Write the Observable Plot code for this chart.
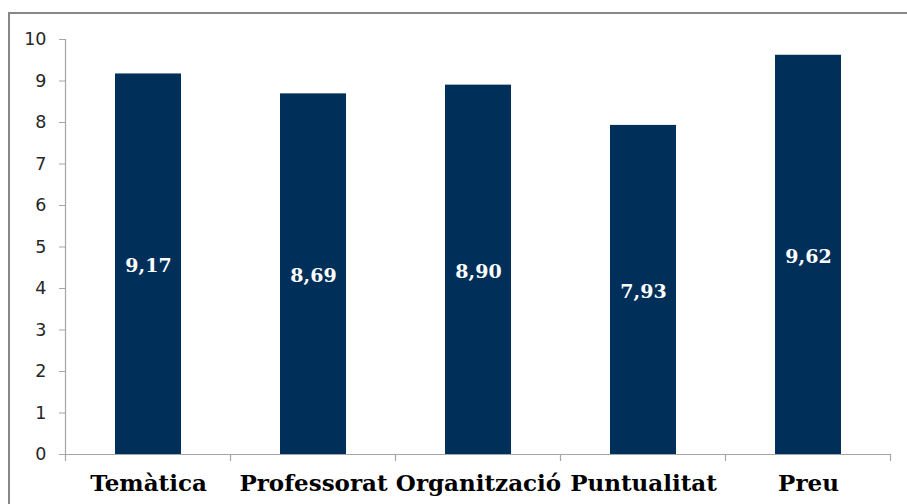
<!DOCTYPE html>
<html>
<head>
<meta charset="utf-8">
<script src="https://cdn.jsdelivr.net/npm/d3@7"></script>
<script src="https://cdn.jsdelivr.net/npm/@observablehq/plot@0.6"></script>
<style>
  html, body { margin: 0; padding: 0; background: #fff; overflow: hidden; }
  #wrap { position: relative; width: 907px; height: 504px; }
  #border { position: absolute; left: 8px; top: 12px; width: 960px; height: 560px;
            border-top: 2.5px solid #878787; border-left: 2.5px solid #878787; box-sizing: border-box; pointer-events: none; }
  #chart { position: absolute; left: 0; top: 0; }
</style>
</head>
<body>
<div id="wrap"><div id="chart"></div><div id="border"></div></div>
<script>
const categories = ["Temàtica", "Professorat", "Organització", "Puntualitat", "Preu"];
const values = [9.17, 8.69, 8.90, 7.93, 9.62];
const valueLabels = ["9,17", "8,69", "8,90", "7,93", "9,62"];
const yTicks = [0, 1, 2, 3, 4, 5, 6, 7, 8, 9, 10];

const data = categories.map((c, i) => ({cat: c, v: values[i], label: valueLabels[i]}));

const barColor = "#002f5a";
const axisColor = "#a6a6a6";

const plot = Plot.plot({
  width: 907,
  height: 504,
  marginLeft: 66,
  marginRight: 16,
  marginTop: 39,
  marginBottom: 50,
  style: {background: "transparent", overflow: "visible"},
  x: {domain: categories, paddingInner: 0.6, paddingOuter: 0.3, label: null},
  y: {domain: [0, 10], label: null},
  marks: [
    Plot.barY(data, {x: "cat", y: "v", fill: barColor}),
    Plot.text(data, {x: "cat", y: d => d.v / 2, text: "label", fill: "#fff",
      fontFamily: "DejaVu Serif", fontWeight: "bold", fontSize: 19, dy: 2}),
    Plot.axisY({ticks: yTicks, tickSize: 7, tickPadding: 13, stroke: axisColor,
      fontFamily: "DejaVu Sans", fontSize: 17.5, fill: "#262626", label: null, tickFormat: d => String(d)}),
    Plot.axisX({tickSize: 0, tickPadding: 20, fontFamily: "DejaVu Serif", fontWeight: "bold",
      fontSize: 23, fill: "#000", label: null}),
    Plot.ruleY([0], {stroke: axisColor, strokeWidth: 1.2})
  ]
});
document.getElementById("chart").appendChild(plot);

// axis lines and category boundary ticks, positioned through Plot's own scales
const xs = plot.scale("x"), ys = plot.scale("y");
const svg = d3.select(plot);
const y0 = ys.apply(0), y10 = ys.apply(10);
const step = xs.step, bw = xs.bandwidth;
const bounds = categories.map(c => xs.apply(c) - (step - bw) / 2);
bounds.push(xs.apply(categories[categories.length - 1]) + bw + (step - bw) / 2);
svg.append("line").attr("x1", bounds[0]).attr("x2", bounds[0]).attr("y1", y10).attr("y2", y0)
  .attr("stroke", axisColor).attr("stroke-width", 1.2);
svg.selectAll("line.bt").data(bounds).join("line").attr("class", "bt")
  .attr("x1", d => d).attr("x2", d => d).attr("y1", y0).attr("y2", y0 + 7)
  .attr("stroke", axisColor).attr("stroke-width", 1.2);
</script>
</body>
</html>
